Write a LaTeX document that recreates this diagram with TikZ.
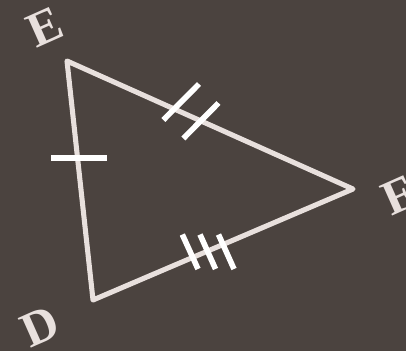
\documentclass[tikz,border=0pt]{standalone}
\usepackage{fontspec}
\setmainfont{Liberation Serif}
\definecolor{board}{HTML}{4B433F}
\definecolor{chalk}{HTML}{E8E0DD}

\begin{document}
\begin{tikzpicture}[
  x=0.75pt, y=-0.75pt,
  side/.style={draw=chalk, line width=3.8pt, line join=round},
  tick/.style={draw=white, line width=4.2pt},
  vlabel/.style={text=chalk, inner sep=0pt, rotate=24,
    font=\fontsize{37}{37}\selectfont\bfseries}
]
\fill[board] (0,0) rectangle (406,351);
\useasboundingbox (0,0) rectangle (406,351);
\coordinate (E) at (67,61);
\coordinate (F) at (353,189);
\coordinate (D) at (93,300);
\node[vlabel] (lE) at (45,27) {E};
\node[vlabel] (lF) at (399,196) {F};
\node[vlabel] (lD) at (40,327) {D};
\draw[side] (E) -- (F) -- (D) -- cycle;
% equal sides
\draw[tick] (51,157.7) -- (107,157.7);
\draw[tick] (163.3,120) -- (199,84);
\draw[tick] (183.3,138.5) -- (218.5,103);
\draw[tick] (182.3,234.5) -- (198,269);
\draw[tick] (200,234.5) -- (215.5,269);
\draw[tick] (218.5,234.5) -- (234,269);
\end{tikzpicture}
\end{document}
